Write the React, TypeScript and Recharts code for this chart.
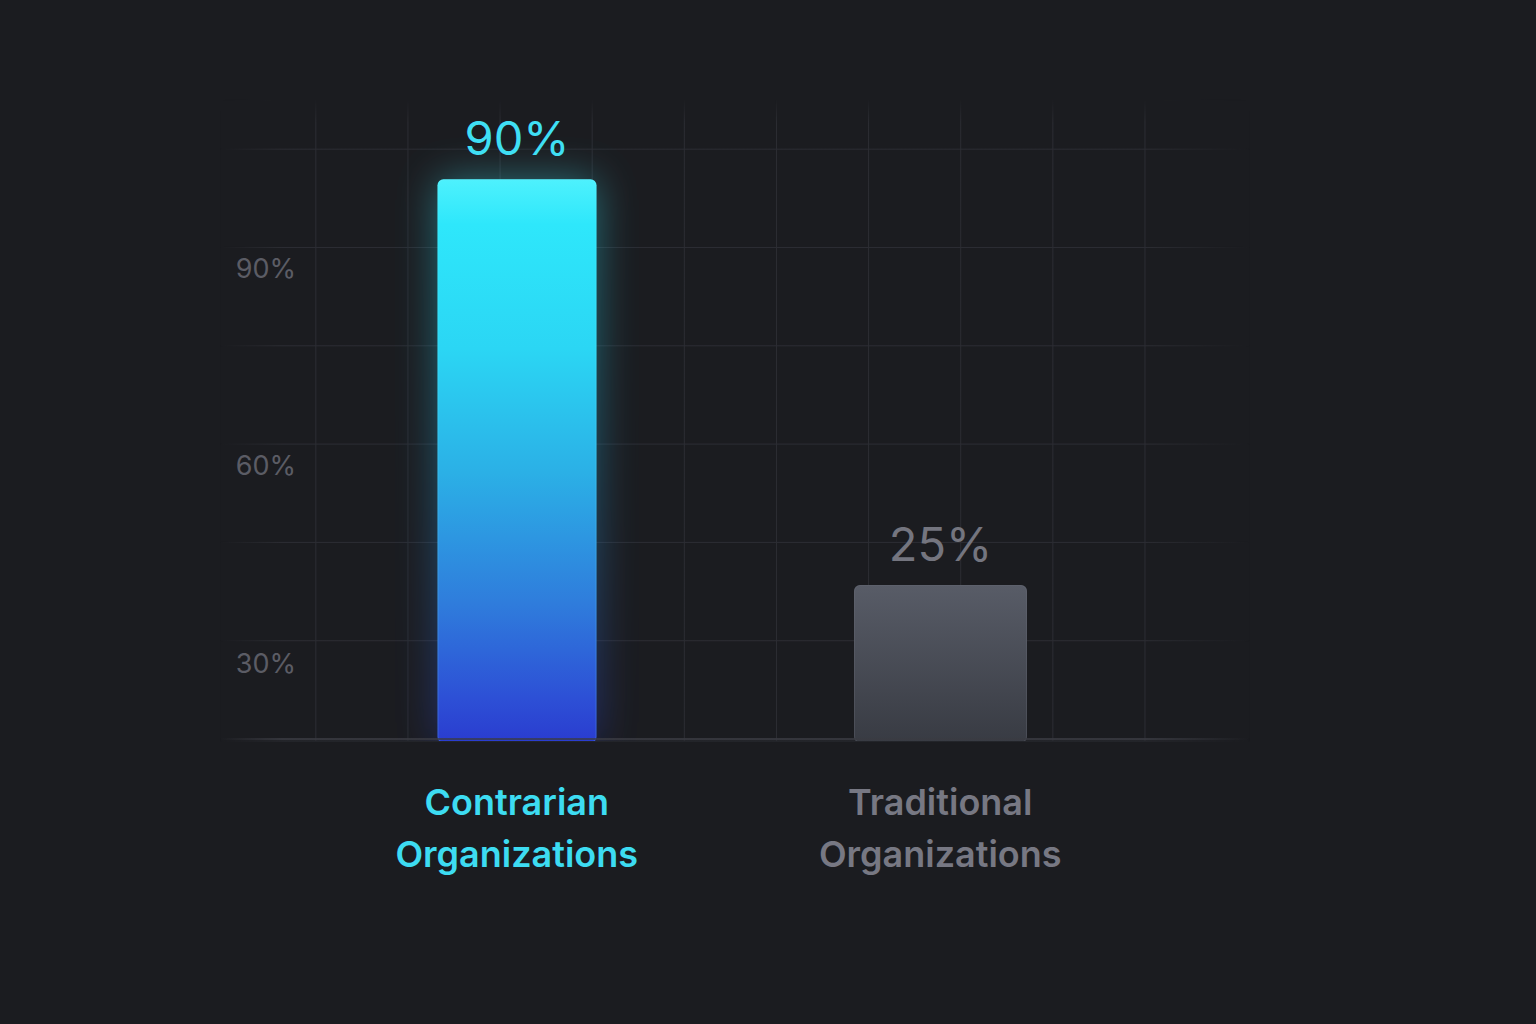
import React from 'react';
import { BarChart, Bar, XAxis, YAxis, CartesianGrid, LabelList, ReferenceLine } from 'recharts';

const categories = ['Contrarian Organizations', 'Traditional Organizations'];
const shares = [90, 25];
const axisTicks = [30, 60, 90];
const gridRows = [0, 1, 2, 3, 4, 5, 6];
const gridCols = [0, 1, 2, 3, 4, 5, 6, 7, 8, 9];

const data = categories.map((name, i) => ({ name, share: shares[i] }));

const FONT = 'Inter, "Noto Sans", sans-serif';
const BG = '#1b1c20';
const barWidths = [159, 173];
const valueColors = ['#3fdff4', '#74757f'];
const categoryColors = ['#3ddcf2', '#777883'];

const BarShape = (props: any) => {
  const { x, y, width, height, index } = props;
  const w = barWidths[index] ?? width;
  const left = x + width / 2 - w / 2;
  const h = height + 2;
  if (index === 0) {
    return (
      <g>
        <rect x={left} y={y} width={w} height={h} rx={6} fill="url(#leadFill)" filter="url(#glow)" opacity={0.4} />
        <rect x={left} y={y} width={w} height={h} rx={6} fill="url(#leadFill)" />
        <rect x={left + 0.5} y={y + 0.5} width={w - 1} height={h - 1} rx={6} fill="none" stroke="#7ff4ff" strokeOpacity={0.18} />
      </g>
    );
  }
  return (
    <g>
      <rect x={left} y={y} width={w} height={h} rx={6} fill="url(#restFill)" />
      <rect x={left + 0.5} y={y + 0.5} width={w - 1} height={h - 1} rx={6} fill="none" stroke="#6a6e79" strokeOpacity={0.35} />
    </g>
  );
};

const ValueLabel = (props: any) => {
  const { x, y, width, value, index } = props;
  return (
    <text x={x + width / 2} y={y - 24} textAnchor="middle" fill={valueColors[index]} fontSize={47} fontFamily={FONT}>
      {value}%
    </text>
  );
};

const CategoryTick = (props: any) => {
  const { x, y, payload } = props;
  const i = categories.indexOf(payload.value);
  const [first, ...rest] = String(payload.value).split(' ');
  return (
    <text x={x} y={y} textAnchor="middle" fill={categoryColors[i]} fontSize={36} fontWeight={600} fontFamily={FONT}>
      <tspan x={x} dy={74}>{first}</tspan>
      <tspan x={x} dy={52}>{rest.join(' ')}</tspan>
    </text>
  );
};

// tick labels sit inside the plot, just right of its left edge
const PercentTick = (props: any) => {
  const { x, y, payload } = props;
  return (
    <text x={x + 136} y={y} dy={10} textAnchor="end" fill="#5b5c65" fontSize={27} fontFamily={FONT}>
      {payload.value}%
    </text>
  );
};

export default function App() {
  return (
    <div style={{ position: 'fixed', left: 0, top: 0, width: 1536, height: 1024, background: BG }}>
      <BarChart width={1536} height={1024} data={data} margin={{ top: 100, right: 286, bottom: 143, left: 219 }}>
        <defs>
          <linearGradient id="leadFill" x1="0" y1="0" x2="0" y2="1">
            <stop offset="0%" stopColor="#4ef1fd" />
            <stop offset="8%" stopColor="#2ee7fb" />
            <stop offset="30%" stopColor="#2bd6f4" />
            <stop offset="52%" stopColor="#2bb0e6" />
            <stop offset="75%" stopColor="#2f7ddc" />
            <stop offset="92%" stopColor="#2d50d6" />
            <stop offset="100%" stopColor="#2a3ccf" />
          </linearGradient>
          <linearGradient id="restFill" x1="0" y1="0" x2="0" y2="1">
            <stop offset="0%" stopColor="#585c67" />
            <stop offset="100%" stopColor="#383b43" />
          </linearGradient>
          <linearGradient id="gridFadeX" gradientUnits="userSpaceOnUse" x1="220" y1="0" x2="1250" y2="0">
            <stop offset="0%" stopColor="#2c2d33" stopOpacity={0} />
            <stop offset="6%" stopColor="#2c2d33" stopOpacity={1} />
            <stop offset="90%" stopColor="#2c2d33" stopOpacity={1} />
            <stop offset="100%" stopColor="#2c2d33" stopOpacity={0} />
          </linearGradient>
          <linearGradient id="baseFadeX" gradientUnits="userSpaceOnUse" x1="220" y1="0" x2="1250" y2="0">
            <stop offset="0%" stopColor="#3a3b42" stopOpacity={0} />
            <stop offset="6%" stopColor="#3a3b42" stopOpacity={1} />
            <stop offset="90%" stopColor="#3a3b42" stopOpacity={1} />
            <stop offset="100%" stopColor="#3a3b42" stopOpacity={0} />
          </linearGradient>
          <linearGradient id="fadeY" x1="0" y1="0" x2="0" y2="1">
            <stop offset="9.6%" stopColor="#000" />
            <stop offset="12%" stopColor="#fff" />
            <stop offset="100%" stopColor="#fff" />
          </linearGradient>
          <mask id="gridMaskY" maskUnits="userSpaceOnUse" x="0" y="0" width="1536" height="1024">
            <rect x="0" y="0" width="1536" height="1024" fill="url(#fadeY)" />
          </mask>
          <filter id="glow" x="-50%" y="-15%" width="200%" height="130%">
            <feGaussianBlur stdDeviation="20" />
          </filter>
        </defs>
        <XAxis xAxisId="g" type="number" dataKey="share" hide domain={[-1.04, 10.14]} ticks={gridCols} allowDataOverflow />
        <YAxis yAxisId="g" type="number" dataKey="share" hide domain={[-0.02, 6.5]} ticks={gridRows} allowDataOverflow />
        <CartesianGrid xAxisId="g" yAxisId="g" stroke="url(#gridFadeX)" strokeWidth={1} mask="url(#gridMaskY)" />
        <XAxis
          xAxisId="c"
          dataKey="name"
          padding={{ left: 85, right: 98 }}
          axisLine={false}
          tickLine={false}
          tickSize={0}
          tickMargin={0}
          height={140}
          interval={0}
          tick={<CategoryTick />}
        />
        <YAxis yAxisId="v" type="number" hide domain={[0, 102.7]} allowDataOverflow />
        <YAxis
          yAxisId="t"
          type="number"
          dataKey="share"
          width={1}
          domain={[18.15, 115.52]}
          ticks={axisTicks}
          interval={0}
          allowDataOverflow
          axisLine={false}
          tickLine={false}
          tickSize={0}
          tickMargin={0}
          tick={<PercentTick />}
        />
        <Bar xAxisId="c" yAxisId="v" dataKey="share" barSize={166} shape={<BarShape />} isAnimationActive={false}>
          <LabelList dataKey="share" content={<ValueLabel />} />
        </Bar>
        <ReferenceLine xAxisId="c" yAxisId="g" y={0} stroke="url(#baseFadeX)" strokeWidth={1.5} />
      </BarChart>
    </div>
  );
}
